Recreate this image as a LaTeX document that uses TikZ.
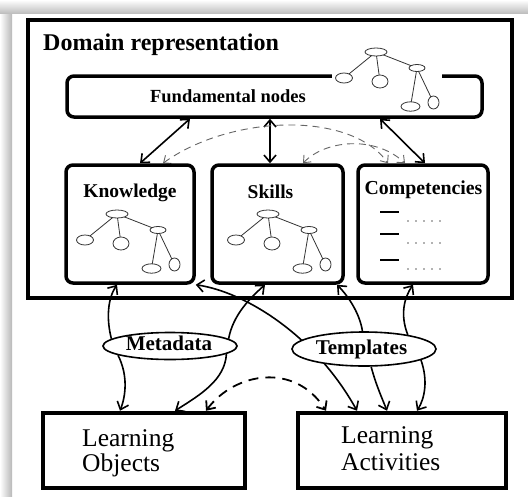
\documentclass[tikz,border=0pt]{standalone}
\usepackage{fontspec}
\setmainfont{Liberation Serif}
\usetikzlibrary{arrows.meta,shapes.geometric,backgrounds}
\tikzset{
  bigbox/.style={draw, line width=4.5pt, inner sep=0pt},
  ibox/.style={draw, line width=3.5pt, rounded corners=7pt, fill=white, inner sep=0pt},
  lbox/.style={draw, line width=4.5pt, fill=white, inner sep=0pt},
  oval/.style={draw, ellipse, line width=1.6pt, fill=white, inner sep=0pt},
  ttl/.style={font=\fontsize{19.5}{22}\selectfont\bfseries, anchor=base, inner sep=0pt},
  btxt/.style={font=\fontsize{25.5}{29}\selectfont, anchor=base west, inner sep=0pt},
  treeln/.style={line width=0.8pt, black!80},
  conn/.style={line width=1.6pt, {Straight Barb[length=7pt,width=12pt]}-{Straight Barb[length=7pt,width=12pt]}},
  toarr/.style={line width=1.6pt, -{Straight Barb[length=7pt,width=12pt]}},
  dasharc/.style={black!60, line width=0.9pt, dash pattern=on 7pt off 5pt, {Straight Barb[length=6pt,width=10pt]}-{Straight Barb[length=6pt,width=10pt]}},
  dashbig/.style={line width=1.8pt, dash pattern=on 10pt off 7pt, {Straight Barb[length=7pt,width=12pt]}-{Straight Barb[length=7pt,width=12pt]}}
}
\newcommand\mytree[1]{%
  \begin{scope}[shift={#1}, treeln]
    \draw (117,214) -- (85,240);
    \draw (117,214) -- (121,243.5);
    \draw (117,214) -- (158,230);
    \draw (158,230) -- (151.5,268.5);
    \draw (158,230) -- (174.5,264.5);
    \filldraw[fill=white] (117,214) ellipse [x radius=11pt, y radius=4pt];
    \filldraw[fill=white] (85,240) ellipse [x radius=8.5pt, y radius=5pt];
    \filldraw[fill=white] (121,243.5) ellipse [x radius=8pt, y radius=6.5pt];
    \filldraw[fill=white] (158,230) ellipse [x radius=8pt, y radius=3.5pt];
    \filldraw[fill=white] (151.5,268.5) ellipse [x radius=9.5pt, y radius=4.7pt];
    \filldraw[fill=white] (174.5,264.5) ellipse [x radius=5.5pt, y radius=6.5pt];
  \end{scope}}
\begin{document}
\begin{tikzpicture}[x=1pt,y=-1pt]
\useasboundingbox (0,0) rectangle (528,496);
\begin{scope}[on background layer]
  \fill[white] (0,0) rectangle (528,496);
  \shade[left color=white, right color=black!28] (0,12) rectangle (12,496);
  \shade[top color=white, bottom color=black!25] (0,0) rectangle (528,13);
\end{scope}

% domain box
\node[bigbox, minimum width=484pt, minimum height=278pt] (dom) at (270,159) {};
\node[font=\fontsize{24}{28}\selectfont\bfseries, anchor=base west, inner sep=0pt] (domtxt) at (43,50) {Domain representation};

% fundamental nodes
\node[ibox, minimum width=415pt, minimum height=41pt] (fund) at (274.5,96.5) {};
\fill[white] (332,42) rectangle (442,113);
\mytree{(259,-162)}
\node[ttl, font=\fontsize{18.5}{22}\selectfont\bfseries] (fundtxt) at (228,102) {Fundamental nodes};

% three boxes
\node[ibox, minimum width=128pt, minimum height=118pt] (know) at (130,224) {};
\node[ibox, minimum width=131pt, minimum height=118pt] (skill) at (277.5,224) {};
\node[ibox, minimum width=130pt, minimum height=118pt] (comp) at (423,224) {};
\node[ttl] (knowtxt) at (130,197) {Knowledge};
\node[ttl] (skilltxt) at (270.5,198) {Skills};
\node[ttl, font=\fontsize{19.8}{22}\selectfont\bfseries] (comptxt) at (423.5,194) {Competencies};
\mytree{(0,0)}
\mytree{(151,0)}
\foreach \yy in {212,234,260} \draw[line width=1.2pt] (380,\yy) -- (399,\yy);
\foreach \yy in {221,243,269} \foreach \xx in {408,416,424,432,440} \fill[black!60] (\xx,\yy) circle (0.8pt);

% ellipses
\node[oval, minimum width=134pt, minimum height=27pt] (meta) at (170,346) {};
\node[ttl, font=\fontsize{21}{24}\selectfont\bfseries] (metatxt) at (169,350) {Metadata};
\node[oval, minimum width=144pt, minimum height=34pt] (tmpl) at (364,349) {};
\node[ttl, font=\fontsize{21}{24}\selectfont\bfseries] (tmpltxt) at (361.5,354) {Templates};

% bottom boxes
\node[lbox, minimum width=202pt, minimum height=75pt] (lo) at (144,450.5) {};
\node[lbox, minimum width=208pt, minimum height=75pt] (la) at (402,450.5) {};
\node[btxt] (lo1) at (82,446) {Learning};
\node[btxt] (lo2) at (82,471) {Objects};
\node[btxt] (la1) at (341,443) {Learning};
\node[btxt] (la2) at (341,470) {Activities};

% connectors
\begin{scope}[on background layer]
  \draw[conn] (know.north -| 140,0) -- (fund.south -| 190,0);
  \draw[conn] (skill.north -| 270,0) -- (fund.south -| 270,0);
  \draw[conn] (comp.north -| 425,0) -- (fund.south -| 380,0);
  \draw[dasharc] (know.north -| 163,0) .. controls (230,115) and (350,110) .. (comp.north -| 388,0);
  \draw[dasharc] (skill.north -| 303,0) .. controls (325,140) and (375,135) .. (comp.north -| 405,0);

  \draw[toarr] (meta.173) .. controls (106,318) and (108,298) .. (know.south -| 117,0);
  \draw[toarr] (meta.190) .. controls (128,375) and (126,395) .. (lo.north -| 120,0);
  \draw[toarr] (meta.7) .. controls (233,315) and (250,298) .. (skill.south -| 265,0);
  \draw[toarr] (meta.-8) .. controls (225,380) and (200,395) .. (lo.north -| 175,0);

  \draw[conn] (know.south east) .. controls (245,292) and (315,335) .. (la.north -| 357,0);
  \draw[toarr] (tmpl.95) .. controls (360,315) and (350,298) .. (skill.south -| 337,0);
  \draw[toarr] (tmpl.-68) .. controls (376,385) and (382,398) .. (la.north -| 387,0);
  \draw[toarr] (tmpl.18) .. controls (400,315) and (404,298) .. (comp.south -| 413,0);
  \draw[toarr] (tmpl.-11) .. controls (428,380) and (425,398) .. (la.north -| 417,0);

  \draw[dashbig] (lo.north -| 206,0) .. controls (235,372) and (295,362) .. (la.north -| 326,0);
\end{scope}
\end{tikzpicture}
\end{document}
